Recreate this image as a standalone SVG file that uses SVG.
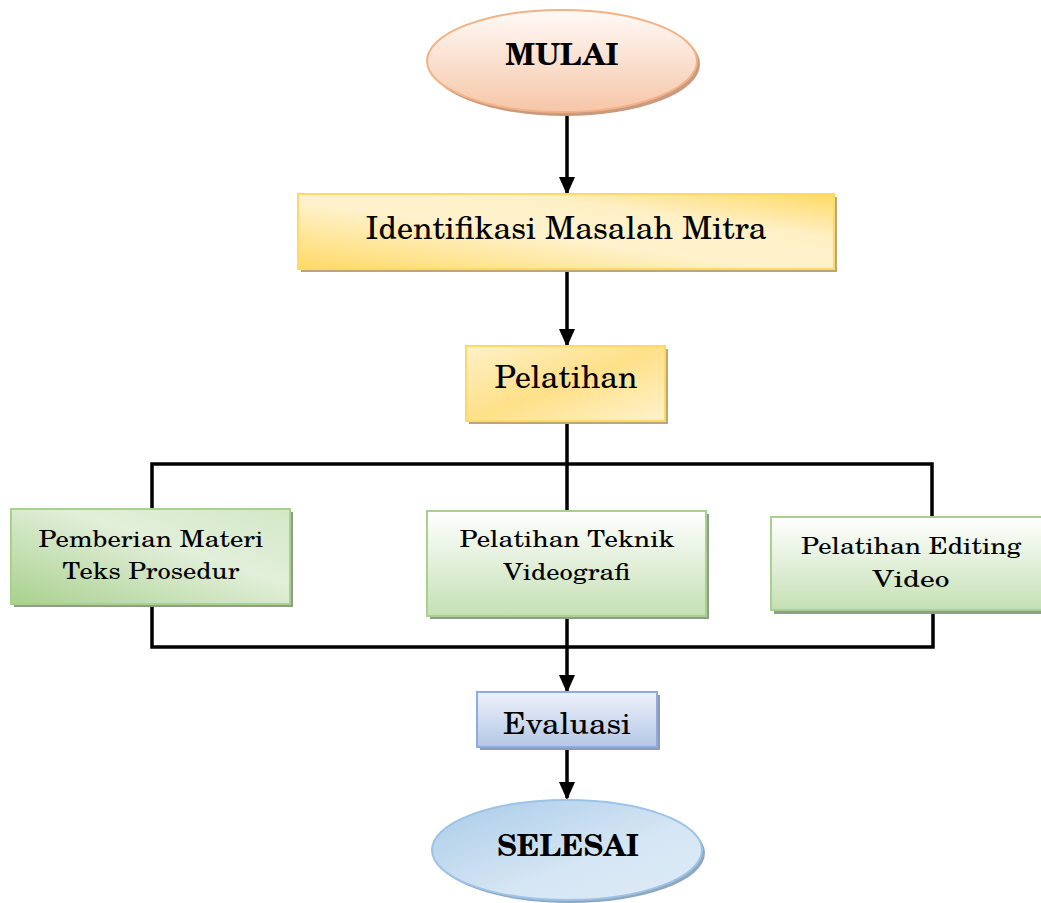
<svg xmlns="http://www.w3.org/2000/svg" width="1041" height="903" viewBox="0 0 1041 903">
<defs>
<linearGradient id="gOrange" x1="0" y1="0" x2="0" y2="1"><stop offset="0" stop-color="#fffaf7"/><stop offset="1" stop-color="#f6c6a8"/></linearGradient>
<linearGradient id="gYellow" x1="0" y1="1" x2="1" y2="0"><stop offset="0" stop-color="#ffd966"/><stop offset="0.45" stop-color="#fff2cc"/><stop offset="0.7" stop-color="#fff0c6"/><stop offset="1" stop-color="#ffd966"/></linearGradient>
<linearGradient id="gYellow2" x1="0" y1="0" x2="1" y2="1"><stop offset="0" stop-color="#fff1c8"/><stop offset="0.5" stop-color="#ffe089"/><stop offset="1" stop-color="#fff2cc"/></linearGradient>
<linearGradient id="gGreenL" x1="0" y1="1" x2="1" y2="0"><stop offset="0" stop-color="#a9d18e"/><stop offset="0.6" stop-color="#e2efda"/><stop offset="1" stop-color="#d3e8c6"/></linearGradient>
<linearGradient id="gGreen" x1="0" y1="0" x2="0" y2="1"><stop offset="0" stop-color="#ffffff"/><stop offset="1" stop-color="#c5e0b4"/></linearGradient>
<linearGradient id="gBlue" x1="0" y1="0" x2="0" y2="1"><stop offset="0" stop-color="#eef2fa"/><stop offset="1" stop-color="#b4c7e7"/></linearGradient>
<linearGradient id="gBlueE" x1="0" y1="0" x2="1" y2="1"><stop offset="0" stop-color="#a9cbe9"/><stop offset="0.6" stop-color="#d6e6f4"/><stop offset="1" stop-color="#deebf7"/></linearGradient>
<marker id="arr" markerWidth="18" markerHeight="18" refX="16" refY="8" orient="auto" markerUnits="userSpaceOnUse" viewBox="0 0 18 16"><path d="M0,0 L18,8 L0,16 Z" fill="#000"/></marker>
</defs>
<style>
.t{font-family:"Century Schoolbook L","TeX Gyre Schola","Liberation Serif",serif;fill:#000;text-anchor:middle}
.line{stroke:#000;stroke-width:3.5;fill:none}
</style>
<rect width="1041" height="903" fill="#fff"/>
<g id="connectors">
<line class="line" x1="567" y1="115" x2="567" y2="193" marker-end="url(#arr)"/>
<line class="line" x1="567" y1="269" x2="567" y2="345" marker-end="url(#arr)"/>
<polyline class="line" points="567,421 567,510"/>
<polyline class="line" points="152,510 152,464 932,464 932,517"/>
<polyline class="line" points="152,604 152,647 933,647 933,610"/>
<line class="line" x1="567" y1="616" x2="567" y2="691" marker-end="url(#arr)"/>
<line class="line" x1="567" y1="747" x2="567" y2="798" marker-end="url(#arr)"/>
</g>
<g id="mulai">
<ellipse cx="565" cy="64" rx="135" ry="52" fill="#c89a80"/>
<ellipse cx="562" cy="61" rx="135" ry="51" fill="url(#gOrange)" stroke="#f4b183" stroke-width="2"/>
<text class="t" x="562" y="65" font-size="30" font-weight="bold">MULAI</text>
</g>
<g id="identifikasi">
<rect x="301" y="197" width="536" height="75" fill="#b8a77a"/>
<rect x="298" y="194" width="536" height="75" fill="url(#gYellow)" stroke="#ffd966" stroke-width="2"/>
<text class="t" x="566" y="239" font-size="32" textLength="401" lengthAdjust="spacingAndGlyphs">Identifikasi Masalah Mitra</text>
</g>
<g id="pelatihan">
<rect x="469" y="349" width="199" height="75" fill="#b8a77a"/>
<rect x="466" y="346" width="199" height="75" fill="url(#gYellow2)" stroke="#ffd966" stroke-width="2"/>
<text class="t" x="566" y="388" font-size="32" textLength="143" lengthAdjust="spacingAndGlyphs">Pelatihan</text>
</g>
<g id="materi">
<rect x="14" y="512" width="279" height="95" fill="#8f9e86"/>
<rect x="11" y="509" width="279" height="95" fill="url(#gGreenL)" stroke="#a9d18e" stroke-width="2"/>
<text class="t" x="151" y="547" font-size="23" textLength="225" lengthAdjust="spacingAndGlyphs">Pemberian Materi</text>
<text class="t" x="151" y="579" font-size="23" textLength="177" lengthAdjust="spacingAndGlyphs">Teks Prosedur</text>
</g>
<g id="videografi">
<rect x="430" y="514" width="279" height="105" fill="#8f9e86"/>
<rect x="427" y="511" width="279" height="105" fill="url(#gGreen)" stroke="#a9d18e" stroke-width="2"/>
<text class="t" x="567" y="547" font-size="23" textLength="215" lengthAdjust="spacingAndGlyphs">Pelatihan Teknik</text>
<text class="t" x="567" y="580" font-size="23" textLength="127" lengthAdjust="spacingAndGlyphs">Videografi</text>
</g>
<g id="editing">
<rect x="774" y="520" width="270" height="94" fill="#8f9e86"/>
<rect x="771" y="517" width="272" height="93" fill="url(#gGreen)" stroke="#a9d18e" stroke-width="2"/>
<text class="t" x="911" y="554" font-size="23" textLength="220" lengthAdjust="spacingAndGlyphs">Pelatihan Editing</text>
<text class="t" x="911" y="587" font-size="23" textLength="77" lengthAdjust="spacingAndGlyphs">Video</text>
</g>
<g id="evaluasi">
<rect x="480" y="695" width="180" height="55" fill="#8f9bb3"/>
<rect x="477" y="692" width="180" height="55" fill="url(#gBlue)" stroke="#8faadc" stroke-width="2"/>
<text class="t" x="567" y="734" font-size="30" textLength="128" lengthAdjust="spacingAndGlyphs">Evaluasi</text>
</g>
<g id="selesai">
<ellipse cx="570" cy="853" rx="135" ry="50" fill="#8fa7bf"/>
<ellipse cx="567" cy="850" rx="135" ry="50" fill="url(#gBlueE)" stroke="#9dc3e6" stroke-width="2"/>
<text class="t" x="568" y="856" font-size="30" font-weight="bold" textLength="142" lengthAdjust="spacingAndGlyphs">SELESAI</text>
</g>
</svg>
